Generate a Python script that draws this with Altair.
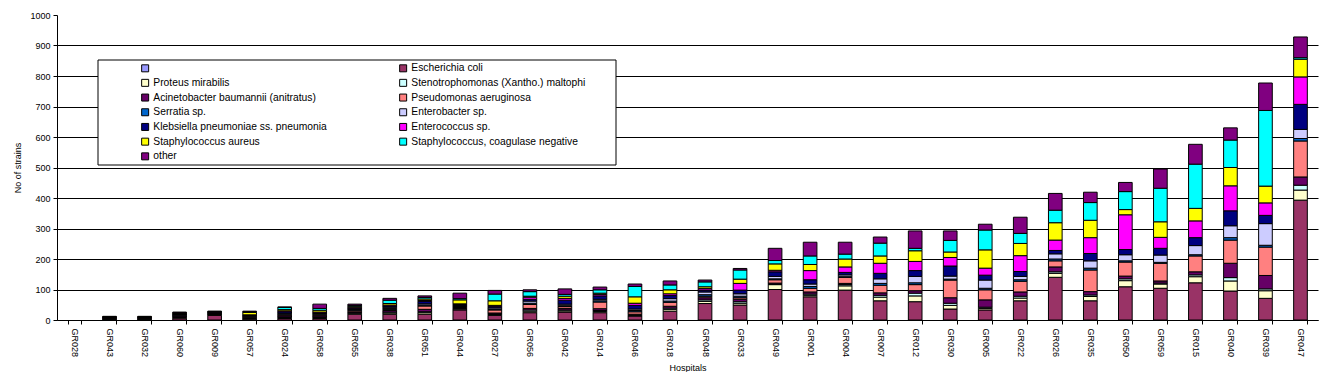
import altair as alt
import pandas as pd

hospitals = ["GR028", "GR043", "GR032", "GR060", "GR009", "GR057", "GR024", "GR058", "GR055",
             "GR038", "GR051", "GR044", "GR027", "GR056", "GR042", "GR014", "GR046", "GR018",
             "GR048", "GR033", "GR049", "GR001", "GR004", "GR007", "GR012", "GR030", "GR005",
             "GR022", "GR026", "GR035", "GR050", "GR059", "GR015", "GR040", "GR039", "GR047"]

e_coli =        [0, 2, 2, 6, 15, 3, 5, 5, 19, 19, 19, 33, 15, 24, 26, 24, 13, 29, 54, 49, 100, 76, 98, 63, 60, 36, 33, 63, 140, 63, 109, 104, 122, 95, 71, 393]
proteus =       [0, 1, 1, 2, 2, 2, 3, 3, 3, 4, 5, 3, 3, 5, 4, 4, 2, 6, 7, 6, 16, 5, 14, 12, 19, 12, 5, 9, 13, 14, 20, 14, 20, 33, 25, 33]
steno =         [0, 1, 1, 2, 1, 2, 2, 2, 2, 3, 3, 2, 2, 4, 3, 3, 2, 4, 5, 5, 2, 4, 4, 6, 9, 7, 4, 6, 5, 5, 6, 3, 6, 11, 6, 16]
acineto =       [0, 2, 2, 3, 2, 2, 4, 4, 3, 5, 8, 3, 3, 5, 5, 6, 2, 6, 7, 8, 3, 7, 4, 8, 8, 18, 24, 14, 16, 11, 9, 7, 10, 47, 44, 27]
pseudomonas =   [0, 1, 1, 2, 2, 2, 3, 3, 5, 4, 11, 3, 10, 13, 6, 22, 8, 13, 5, 5, 11, 12, 20, 25, 20, 58, 33, 35, 20, 71, 46, 58, 52, 76, 93, 118]
serratia =      [0, 1, 1, 1, 1, 1, 2, 2, 2, 3, 3, 2, 3, 4, 3, 4, 4, 4, 5, 5, 3, 6, 2, 6, 6, 3, 5, 5, 6, 6, 4, 3, 4, 8, 6, 8]
enterobacter =  [0, 1, 1, 2, 1, 2, 3, 2, 2, 4, 4, 2, 4, 7, 5, 5, 5, 8, 9, 8, 8, 8, 6, 15, 21, 10, 27, 11, 17, 24, 20, 24, 30, 39, 71, 30]
klebsiella =    [0, 1, 1, 2, 2, 2, 5, 2, 3, 4, 8, 3, 5, 6, 13, 11, 12, 10, 6, 12, 15, 14, 8, 18, 19, 33, 16, 16, 11, 24, 17, 22, 26, 49, 27, 82]
enterococcus =  [0, 1, 1, 1, 1, 1, 3, 3, 3, 3, 3, 2, 3, 7, 6, 5, 7, 6, 5, 22, 5, 30, 18, 33, 30, 28, 23, 52, 34, 52, 114, 36, 55, 82, 41, 90]
s_aureus =      [0, 1, 1, 2, 1, 8, 4, 6, 3, 5, 5, 13, 15, 3, 7, 4, 21, 13, 6, 14, 21, 20, 26, 24, 35, 18, 60, 40, 57, 57, 17, 51, 41, 60, 55, 58]
cons =          [0, 0, 0, 1, 1, 2, 7, 6, 3, 11, 5, 4, 22, 15, 6, 11, 34, 16, 16, 30, 11, 28, 16, 42, 8, 38, 65, 33, 41, 58, 59, 110, 145, 90, 248, 5]
other =         [0, 0, 0, 2, 0, 2, 2, 14, 4, 6, 5, 18, 12, 6, 18, 9, 8, 13, 6, 5, 40, 45, 39, 20, 57, 31, 19, 53, 55, 34, 30, 63, 65, 40, 90, 68]
blank =         [0] * 36

series_names = [" ", "Escherichia coli", "Proteus mirabilis", "Stenotrophomonas (Xantho.) maltophi",
                "Acinetobacter baumannii (anitratus)", "Pseudomonas aeruginosa", "Serratia sp.",
                "Enterobacter sp.", "Klebsiella pneumoniae ss. pneumonia", "Enterococcus sp.",
                "Staphylococcus aureus", "Staphylococcus, coagulase negative", "other"]
series_colors = ["#9999FF", "#993366", "#FFFFCC", "#CCFFFF", "#660066", "#FF8080", "#0066CC",
                 "#CCCCFF", "#000080", "#FF00FF", "#FFFF00", "#00FFFF", "#800080"]
series_values = [blank, e_coli, proteus, steno, acineto, pseudomonas, serratia, enterobacter,
                 klebsiella, enterococcus, s_aureus, cons, other]

rows = []
for k, (name, vals) in enumerate(zip(series_names, series_values)):
    for h, v in zip(hospitals, vals):
        rows.append({"hospital": h, "organism": name, "value": v, "idx": k})
df = pd.DataFrame(rows)

FONT = "Liberation Sans"

frame = alt.Chart(alt.Data(values=[{}])).mark_rect(
    fill="white", stroke="black", strokeWidth=1
).encode(
    x=alt.value(41), x2=alt.value(559), y=alt.value(45), y2=alt.value(150)
)

bars = alt.Chart(df).transform_filter(
    alt.datum.value > 0
).mark_bar(stroke="black", strokeWidth=1).encode(
    x=alt.X("hospital:N", sort=hospitals,
            scale=alt.Scale(domain=hospitals, paddingInner=0.61, paddingOuter=0.305),
            axis=alt.Axis(title="Hospitals", labelAngle=90, labelAlign="left",
                          labelBaseline="middle", labelPadding=4, tickBand="extent",
                          tickSize=4, tickColor="black", domainColor="black",
                          labelFont=FONT, labelFontSize=9, labelColor="black",
                          titleFont=FONT, titleFontSize=9, titleFontWeight="normal",
                          titleColor="black", titlePadding=7)),
    y=alt.Y("value:Q", stack="zero",
            scale=alt.Scale(domain=[0, 1000], nice=False),
            axis=alt.Axis(title="No of strains", values=list(range(0, 1001, 100)), format="d",
                          grid=True, gridColor="black", gridWidth=1,
                          gridOpacity={"condition": {"test": "datum.value === 1000", "value": 0}, "value": 1},
                          tickSize=4, tickColor="black", domainColor="black",
                          labelFont=FONT, labelFontSize=9, labelColor="black", labelPadding=3,
                          titleFont=FONT, titleFontSize=9, titleFontWeight="normal",
                          titleColor="black", titlePadding=7)),
    color=alt.Color("organism:N",
                    scale=alt.Scale(domain=series_names, range=series_colors),
                    legend=alt.Legend(orient="none", legendX=83, legendY=48, columns=2,
                                      direction="horizontal",
                                      columnPadding=70, rowPadding=2.7, symbolType="square",
                                      symbolSize=49, symbolStrokeColor="black",
                                      symbolStrokeWidth=1, labelFont=FONT, labelFontSize=10.3,
                                      labelColor="black", labelOffset=3, title=None,
                                      padding=0, labelLimit=400)),
    order=alt.Order("idx:Q", sort="ascending"),
)

chart = alt.layer(frame, bars).properties(
    width=1261, height=305,
    autosize=alt.AutoSizeParams(type="none"),
    padding={"left": 49, "top": 7, "right": 6, "bottom": 52},
    background="white",
).configure_view(stroke=None)

chart.save("out.html", embed_options={"renderer": "svg", "actions": False})
